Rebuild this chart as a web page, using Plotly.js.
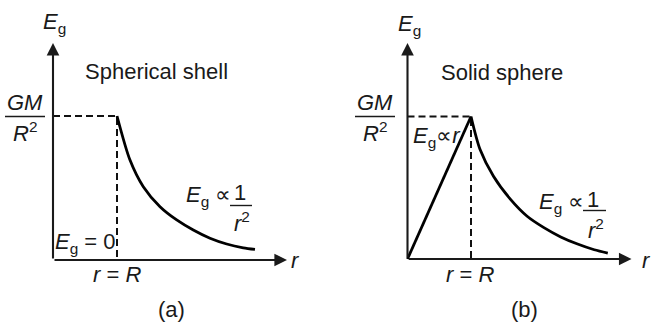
<!DOCTYPE html>
<html>
<head>
<meta charset="utf-8">
<script src="https://cdn.plot.ly/plotly-3.0.1.min.js"></script>
<style>
  html, body { margin: 0; padding: 0; background: #fff; }
  #chart { width: 652px; height: 330px; }
</style>
</head>
<body>
<div id="chart"></div>
<script>
// Gravitational field strength Eg against distance r from the centre.
// r is in units of the radius R, Eg in units of GM/R^2.

// (a) spherical shell: zero inside, falls off as 1/r^2 outside
const shellR = [1.00, 1.203, 1.411, 1.672, 1.933, 2.192, 2.453, 2.714, 2.973, 3.156];
const shellE = [1.00, 0.694, 0.509, 0.370, 0.278, 0.208, 0.151, 0.111, 0.085, 0.074];

// (b) solid sphere: rises linearly inside, falls off as 1/r^2 outside
const insideR = [0, 1.00];
const insideE = [0, 1.00];
const outsideR = [1.00, 1.143, 1.354, 1.619, 1.884, 2.148, 2.413, 2.678, 2.941, 3.154];
const outsideE = [1.00, 0.768, 0.580, 0.420, 0.300, 0.220, 0.155, 0.105, 0.065, 0.042];

// surface values r = R and Eg = GM/R^2
const surfaceR = 1;
const surfaceE = 1;

// how far each axis arrow reaches, panels (a) and (b)
const axisTipR = [3.656, 3.528];
const axisTipE = [1.507, 1.516];

const FONT = 'Liberation Sans, Arial, Helvetica, sans-serif';
const INK = '#1a1a1a';
const SIZE = 22;
const W = 652, H = 330;
const px = v => v / W;
const py = v => 1 - v / H;

const curveLine = { color: '#000', width: 2.8 };
const dashLine = { color: '#111', width: 2, dash: '7px,4px' };

const traces = [
  { x: [0, surfaceR, surfaceR], y: [surfaceE, surfaceE, 0], xaxis: 'x', yaxis: 'y',
    mode: 'lines', line: dashLine },
  { x: shellR, y: shellE, xaxis: 'x', yaxis: 'y', mode: 'lines',
    line: Object.assign({ shape: 'spline', smoothing: 0.8 }, curveLine) },
  { x: [0, surfaceR, surfaceR], y: [surfaceE, surfaceE, 0], xaxis: 'x2', yaxis: 'y2',
    mode: 'lines', line: dashLine },
  { x: insideR, y: insideE, xaxis: 'x2', yaxis: 'y2', mode: 'lines', line: curveLine },
  { x: outsideR, y: outsideE, xaxis: 'x2', yaxis: 'y2', mode: 'lines',
    line: Object.assign({ shape: 'spline', smoothing: 0.8 }, curveLine) }
];

// axis lines with solid arrowheads
function axisArrow(xr, yr, x, y) {
  return { xref: xr, yref: yr, axref: xr, ayref: yr, x: x, y: y, ax: 0, ay: 0,
    text: '', showarrow: true, arrowhead: 2, arrowsize: 1.2, arrowwidth: 2.1,
    arrowcolor: '#1a1a1a', standoff: 0 };
}

function label(text, x, y, xanchor, yanchor) {
  return { xref: 'paper', yref: 'paper', x: px(x), y: py(y), xanchor: xanchor || 'center',
    yanchor: yanchor || 'middle', text: text, showarrow: false, borderpad: 0,
    font: { family: FONT, size: SIZE, color: INK } };
}

const Eg = '<i>E</i><sub>g</sub>';

const annotations = [
  axisArrow('x', 'y', 0, axisTipE[0]),
  axisArrow('x', 'y', axisTipR[0], 0),
  axisArrow('x2', 'y2', 0, axisTipE[1]),
  axisArrow('x2', 'y2', axisTipR[1], 0),

  // panel (a)
  label(Eg, 42, 23, 'left'),
  label('Spherical shell', 156, 71.5),
  label('<i>GM</i>', 25, 116, 'center', 'bottom'),
  label('<i>R</i><sup>2</sup>', 25, 117, 'center', 'top'),
  label(Eg + ' = 0', 54, 243, 'left'),
  label('<i>r</i> = <i>R</i>', 117, 274.5),
  label('(a)', 172, 309),
  label('<i>r</i>', 290, 260, 'left'),
  label(Eg + ' \u221D', 185, 196, 'left'),
  label('1', 240, 192.5),
  label('<i>r</i><sup>2</sup>', 242, 222),

  // panel (b)
  label(Eg, 397, 25, 'left'),
  label('Solid sphere', 502, 72.5),
  label('<i>GM</i>', 375, 116, 'center', 'bottom'),
  label('<i>R</i><sup>2</sup>', 375, 117, 'center', 'top'),
  label(Eg + '\u221D<i>r</i>', 412, 137, 'left'),
  label('<i>r</i> = <i>R</i>', 470, 274.5),
  label('(b)', 524, 309),
  label('<i>r</i>', 641, 260, 'left'),
  label(Eg + ' \u221D', 538, 203, 'left'),
  label('1', 593, 199.5),
  label('<i>r</i><sup>2</sup>', 596, 229)
];

// fraction bars
function bar(x0, x1, y) {
  return { type: 'line', xref: 'paper', yref: 'paper', x0: px(x0), x1: px(x1),
    y0: py(y), y1: py(y), line: { color: INK, width: 1.4 } };
}
const shapes = [
  bar(5, 45, 116.5), bar(230, 252, 205.5),
  bar(355, 395, 116.5), bar(583, 606, 210.5)
];

const hidden = { visible: false, showgrid: false, zeroline: false, fixedrange: true };

const layout = {
  width: W, height: H,
  margin: { l: 0, r: 0, t: 0, b: 0 },
  paper_bgcolor: '#fff', plot_bgcolor: '#fff',
  showlegend: false,
  xaxis: Object.assign({ domain: [0, 0.5], range: [-0.828125, 4.265625], anchor: 'y' }, hidden),
  yaxis: Object.assign({ domain: [0, 1], range: [-0.48611, 1.80556], anchor: 'x' }, hidden),
  xaxis2: Object.assign({ domain: [0.5, 1], range: [-1.2835, 3.8504], anchor: 'y2' }, hidden),
  yaxis2: Object.assign({ domain: [0, 1], range: [-0.49825, 1.81754], anchor: 'x2' }, hidden),
  annotations: annotations,
  shapes: shapes
};

Plotly.newPlot('chart', traces, layout, { staticPlot: true, displayModeBar: false });
</script>
</body>
</html>
